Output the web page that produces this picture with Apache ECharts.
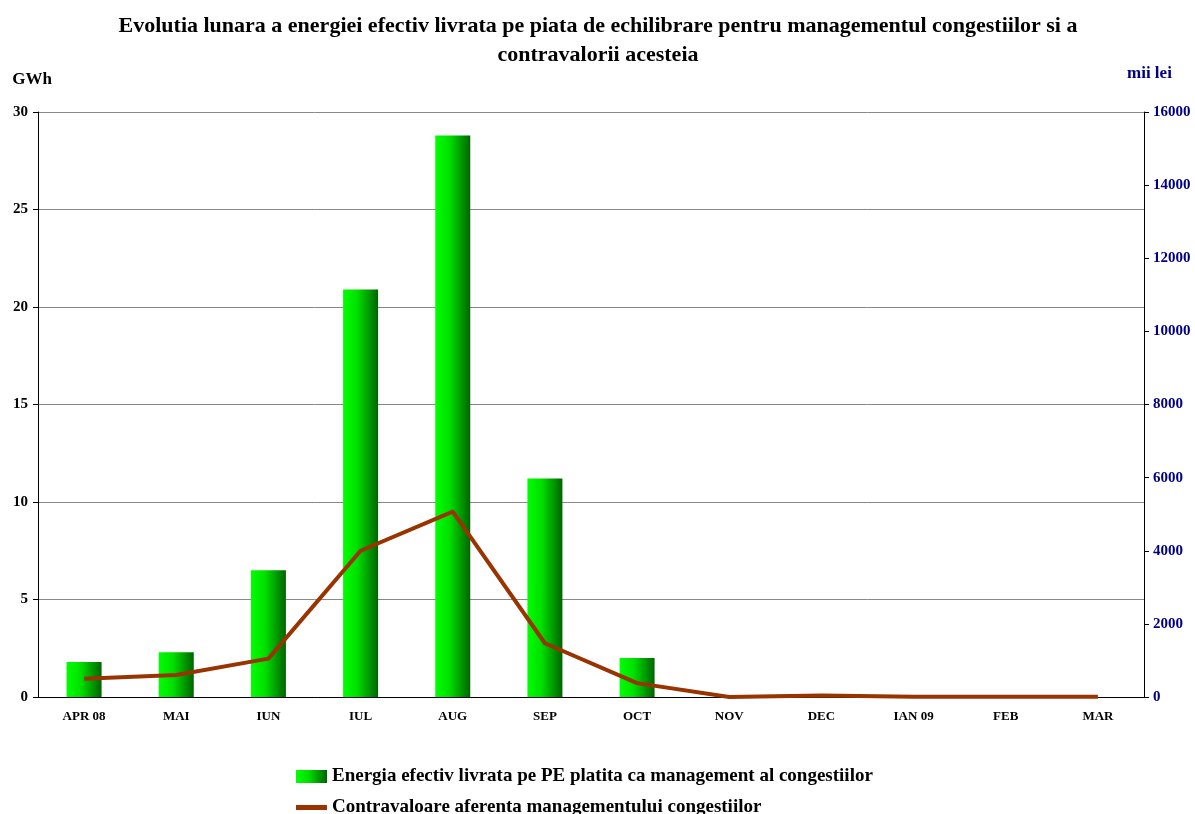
<!DOCTYPE html>
<html>
<head>
<meta charset="utf-8">
<script src="https://cdn.jsdelivr.net/npm/echarts@6/dist/echarts.min.js"></script>
<style>
  html, body { margin: 0; padding: 0; background: #fff; }
  #chart { width: 1195px; height: 814px; }
</style>
</head>
<body>
<div id="chart"></div>
<script>
const months = ['APR 08', 'MAI', 'IUN', 'IUL', 'AUG', 'SEP', 'OCT', 'NOV', 'DEC', 'IAN 09', 'FEB', 'MAR']
const energyGWh = [1.8, 2.3, 6.5, 20.9, 28.8, 11.2, 2.0, 0, 0, 0, 0, 0]
const valueMiiLei = [500, 600, 1050, 4000, 5070, 1470, 380, 0, 40, 10, 10, 10]

const serif = '"Liberation Serif", "DejaVu Serif", serif'
const barName = 'Energia efectiv livrata pe PE platita ca management al congestiilor'
const lineName = 'Contravaloare aferenta managementului congestiilor'
const barGradient = new echarts.graphic.LinearGradient(0, 0, 1, 0, [
  { offset: 0, color: '#00ff00' },
  { offset: 0.4, color: '#00e000' },
  { offset: 1, color: '#006400' }
])
const legendText = { fontFamily: serif, fontWeight: 'bold', fontSize: 19, color: '#000' }

const option = {
  animation: false,
  title: {
    text: 'Evolutia lunara a energiei efectiv livrata pe piata de echilibrare pentru managementul congestiilor si a\ncontravalorii acesteia',
    left: 593,
    textAlign: 'center',
    top: 7,
    textStyle: { fontFamily: serif, fontWeight: 'bold', fontSize: 22, color: '#000', lineHeight: 29 }
  },
  grid: { left: 38, right: 51, top: 112, bottom: 117 },
  legend: [
    {
      left: 291,
      top: 762,
      itemWidth: 31,
      itemHeight: 13,
      textStyle: legendText,
      data: [{ name: barName, icon: 'rect' }]
    },
    {
      left: 291,
      top: 793,
      itemWidth: 31,
      itemHeight: 5,
      textStyle: legendText,
      data: [{ name: lineName, icon: 'rect', itemStyle: { color: '#993300' } }]
    }
  ],
  xAxis: {
    type: 'category',
    data: months,
    axisLine: { lineStyle: { color: '#000', width: 1 } },
    axisTick: { alignWithLabel: false, length: 6, lineStyle: { color: '#000' } },
    axisLabel: { fontFamily: serif, fontWeight: 'bold', fontSize: 13, color: '#000', margin: 13 }
  },
  yAxis: [
    {
      type: 'value',
      min: 0,
      max: 30,
      interval: 5,
      name: 'GWh',
      nameLocation: 'end',
      nameGap: 24,
      nameTextStyle: { fontFamily: serif, fontWeight: 'bold', fontSize: 17, color: '#000', align: 'right', padding: [0, -14, 0, 0] },
      axisLine: { show: true, lineStyle: { color: '#000' } },
      axisTick: { show: true, length: 5, lineStyle: { color: '#000' } },
      axisLabel: { fontFamily: serif, fontWeight: 'bold', fontSize: 15, color: '#000', margin: 10 },
      splitLine: { show: true, lineStyle: { color: '#888', width: 1 } }
    },
    {
      type: 'value',
      min: 0,
      max: 16000,
      interval: 2000,
      name: 'mii lei',
      nameLocation: 'end',
      nameGap: 30,
      nameTextStyle: { fontFamily: serif, fontWeight: 'bold', fontSize: 17, color: '#000080', align: 'left', padding: [0, 0, 0, -17] },
      axisLine: { show: true, lineStyle: { color: '#000' } },
      axisTick: { show: true, length: 5, lineStyle: { color: '#000' } },
      axisLabel: { fontFamily: serif, fontWeight: 'bold', fontSize: 15, color: '#000080', margin: 9, formatter: v => String(v) },
      splitLine: { show: false }
    }
  ],
  series: [
    {
      name: barName,
      type: 'bar',
      yAxisIndex: 0,
      barWidth: 35,
      itemStyle: { color: barGradient },
      data: energyGWh
    },
    {
      name: lineName,
      type: 'line',
      yAxisIndex: 1,
      symbol: 'none',
      lineStyle: { color: '#993300', width: 4 },
      itemStyle: { color: '#993300' },
      data: valueMiiLei
    }
  ]
}

const chart = echarts.init(document.getElementById('chart'))
chart.setOption(option)
</script>
</body>
</html>
